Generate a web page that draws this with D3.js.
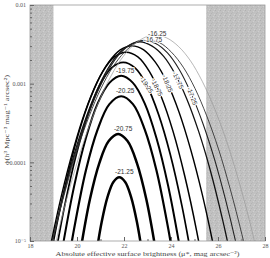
<!DOCTYPE html>
<html>
<head>
<meta charset="utf-8">
<script src="https://cdn.jsdelivr.net/npm/d3@7"></script>
<style>
body { margin: 0; background: #fff; }
svg { display: block; }
.tick text { font-family: "Liberation Serif", "DejaVu Serif", serif; font-size: 6px; fill: #555; }
.title { font-family: "Liberation Serif", "DejaVu Serif", serif; font-size: 7px; fill: #444; }
.lab { font-family: "Liberation Sans", Arial, sans-serif; font-size: 6.5px; fill: #333; }
</style>
</head>
<body>
<svg id="chart" width="270" height="258"></svg>
<script>
// magnitude bins (brightest first), one curve each: [mu, log10 phi]
var mags = ["-21.25", "-20.75", "-20.25", "-19.75", "-19.25", "-18.75",
            "-18.25", "-17.75", "-17.25", "-16.75", "-16.25"];

var c2125 = [[20.80,-5.20],[21.05,-4.76],[21.30,-4.44],[21.55,-4.25],[21.80,-4.19],[22.05,-4.25],[22.30,-4.44],[22.55,-4.76],[22.80,-5.20]];
var c2075 = [[20.15,-5.12],[20.55,-4.47],[20.95,-4.01],[21.35,-3.73],[21.75,-3.64],[22.15,-3.73],[22.55,-4.01],[22.95,-4.47],[23.35,-5.12]];
var c2025 = [[19.63,-5.28],[19.88,-4.84],[20.38,-4.10],[20.88,-3.58],[21.38,-3.26],[21.88,-3.16],[22.38,-3.26],[22.88,-3.58],[23.38,-4.10],[23.88,-4.84],[24.13,-5.28]];
var c1975 = [[19.13,-5.55],[19.38,-5.09],[19.88,-4.30],[20.38,-3.69],[20.88,-3.25],[21.38,-2.99],[21.88,-2.90],[22.38,-2.99],[22.88,-3.25],[23.38,-3.69],[23.88,-4.30],[24.38,-5.09],[24.63,-5.55]];
var c1925 = [[18.97,-5.37],[19.47,-4.56],[19.97,-3.90],[20.47,-3.39],[20.97,-3.02],[21.47,-2.80],[21.97,-2.73],[22.47,-2.80],[22.97,-3.02],[23.47,-3.39],[23.97,-3.90],[24.47,-4.56],[24.97,-5.37]];
var c1875 = [[18.59,-5.69],[19.09,-4.87],[19.59,-4.18],[20.09,-3.61],[20.59,-3.17],[21.09,-2.85],[21.59,-2.66],[22.09,-2.60],[22.59,-2.66],[23.09,-2.85],[23.59,-3.17],[24.09,-3.61],[24.59,-4.18],[25.09,-4.87],[25.59,-5.69]];
var c1825 = [[18.34,-5.90],[18.84,-5.11],[19.34,-4.42],[19.84,-3.84],[20.34,-3.36],[20.84,-2.99],[21.34,-2.73],[21.84,-2.57],[22.34,-2.52],[22.84,-2.57],[23.34,-2.73],[23.84,-2.99],[24.34,-3.36],[24.84,-3.84],[25.34,-4.42],[25.84,-5.11],[26.34,-5.90]];
var c1775 = [[18.68,-5.39],[19.18,-4.71],[19.68,-4.11],[20.18,-3.61],[20.68,-3.20],[21.18,-2.88],[21.68,-2.65],[22.18,-2.52],[22.68,-2.47],[23.18,-2.52],[23.68,-2.65],[24.18,-2.88],[24.68,-3.20],[25.18,-3.61],[25.68,-4.11],[26.18,-4.71],[26.68,-5.39]];
var c1725 = [[18.35,-5.86],[18.85,-5.14],[19.35,-4.51],[19.85,-3.96],[20.35,-3.50],[20.85,-3.12],[21.35,-2.82],[21.85,-2.61],[22.35,-2.49],[22.85,-2.45],[23.35,-2.49],[23.85,-2.61],[24.35,-2.82],[24.85,-3.12],[25.35,-3.50],[25.85,-3.96],[26.35,-4.51],[26.85,-5.14],[27.35,-5.86]];
var c1675 = [[18.52,-5.57],[19.02,-4.92],[19.52,-4.34],[20.02,-3.83],[20.52,-3.41],[21.02,-3.06],[21.52,-2.79],[22.02,-2.60],[22.52,-2.48],[23.02,-2.45],[23.52,-2.48],[24.02,-2.60],[24.52,-2.79],[25.02,-3.06],[25.52,-3.41],[26.02,-3.83],[26.52,-4.34],[27.02,-4.92],[27.52,-5.57]];
var c1625 = [[18.83,-5.36],[19.33,-4.73],[19.83,-4.18],[20.33,-3.70],[20.83,-3.30],[21.33,-2.97],[21.83,-2.71],[22.33,-2.53],[22.83,-2.42],[23.33,-2.38],[23.83,-2.42],[24.33,-2.53],[24.83,-2.71],[25.33,-2.97],[25.83,-3.30],[26.33,-3.70],[26.83,-4.18],[27.33,-4.73],[27.83,-5.36]];

var curves = [c2125, c2075, c2025, c1975, c1925, c1875, c1825, c1775, c1725, c1675, c1625];

// labels written along the falling side of these curves (index, mu)
var slantLabels = [[4, 22.96], [5, 23.40], [6, 23.85], [7, 24.30], [8, 24.90]];

// shaded (excluded) surface brightness ranges
var shaded = [[18, 19], [25.5, 28]];

var xTicks = [18, 20, 22, 24, 26, 28];
var yTicks = [1e-5, 1e-4, 1e-3, 1e-2];
var yTickLabels = ["10\u207b\u2075", "0.0001", "0.001", "0.01"];

var svg = d3.select("#chart"),
    pLeft = 30, pRight = 265, pTop = 5, pBottom = 241;

var x = d3.scaleLinear().domain([18, 28]).range([pLeft, pRight]);
var y = d3.scaleLog().domain([1e-5, 1e-2]).range([pBottom, pTop]);

var defs = svg.append("defs");
defs.append("clipPath").attr("id", "clip")
  .append("rect").attr("x", pLeft).attr("y", pTop)
  .attr("width", pRight - pLeft).attr("height", pBottom - pTop);

// speckled grey for the shaded bands
var pat = defs.append("pattern").attr("id", "speckle")
    .attr("patternUnits", "userSpaceOnUse").attr("width", 5).attr("height", 5);
pat.append("rect").attr("width", 5).attr("height", 5).attr("fill", "#c1c1c1");
[[0, 0, "#b0b0b0"], [3, 1, "#cfcfcf"], [1, 3, "#b4b4b4"], [4, 4, "#d0d0d0"], [2, 2, "#b8b8b8"]]
  .forEach(function(p) {
    pat.append("rect").attr("x", p[0]).attr("y", p[1])
      .attr("width", 1).attr("height", 1).attr("fill", p[2]);
  });

svg.append("g").selectAll("rect").data(shaded).enter().append("rect")
    .attr("x", function(d) { return x(d[0]); })
    .attr("y", pTop)
    .attr("width", function(d) { return x(d[1]) - x(d[0]); })
    .attr("height", pBottom - pTop)
    .attr("fill", "url(#speckle)");

var widths = [2.5, 2.5, 2.2, 2.0, 1.7, 1.5, 1.4, 1.3, 1.1, 0.9, 0.7];
var colors = ["#000", "#000", "#000", "#000", "#000", "#000", "#000", "#111", "#222", "#333", "#999"];

var line = d3.line()
    .x(function(d) { return x(d[0]); })
    .y(function(d) { return y(Math.pow(10, d[1])); })
    .curve(d3.curveCatmullRom.alpha(0.5));

svg.append("g").attr("clip-path", "url(#clip)")
  .selectAll("path").data(curves).enter().append("path")
    .attr("d", line)
    .attr("fill", "none")
    .attr("stroke", function(d, i) { return colors[i]; })
    .attr("stroke-width", function(d, i) { return widths[i]; });

// frame
svg.append("rect").attr("x", pLeft).attr("y", pTop)
  .attr("width", pRight - pLeft).attr("height", pBottom - pTop)
  .attr("fill", "none").attr("stroke", "#999").attr("stroke-width", 0.8);

// axes with inward ticks
var minorY = [];
[1e-5, 1e-4, 1e-3].forEach(function(dec) {
  for (var k = 2; k <= 9; k++) minorY.push(dec * k);
});
svg.append("g").attr("transform", "translate(" + pLeft + ",0)")
    .call(d3.axisLeft(y).tickValues(minorY).tickSize(-2).tickFormat(""))
    .call(function(g) { g.select(".domain").remove(); g.selectAll("line").attr("stroke", "#666"); });
svg.append("g").attr("transform", "translate(" + pLeft + ",0)")
    .call(d3.axisLeft(y).tickValues(yTicks).tickSize(-4).tickPadding(4)
      .tickFormat(function(d, i) { return yTickLabels[i]; }))
    .call(function(g) { g.select(".domain").remove(); g.selectAll("line").attr("stroke", "#666"); });

var minorX = d3.range(19, 28, 2);
svg.append("g").attr("transform", "translate(0," + pBottom + ")")
    .call(d3.axisBottom(x).tickValues(minorX).tickSize(-2).tickFormat(""))
    .call(function(g) { g.select(".domain").remove(); g.selectAll("line").attr("stroke", "#666"); });
svg.append("g").attr("transform", "translate(0," + pBottom + ")")
    .call(d3.axisBottom(x).tickValues(xTicks).tickSize(-4).tickPadding(3))
    .call(function(g) { g.select(".domain").remove(); g.selectAll("line").attr("stroke", "#666"); });

svg.append("text").attr("class", "title")
    .attr("x", (pLeft + pRight) / 2).attr("y", 256)
    .attr("text-anchor", "middle")
    .attr("textLength", 184).attr("lengthAdjust", "spacingAndGlyphs")
    .text("Absolute effective surface brightness (\u03bc*, mag arcsec\u207b\u00b2)");

svg.append("text").attr("class", "title")
    .attr("transform", "translate(9,120) rotate(-90)")
    .attr("text-anchor", "middle")
    .attr("textLength", 90).attr("lengthAdjust", "spacingAndGlyphs")
    .text("\u03d5(h\u00b3 Mpc\u207b\u00b3 mag\u207b\u00b9 arcsec\u00b2)");

// labels above the peaks (index, dx, dy in px from the peak)
var peakLabels = [[0, 5, -3], [1, 5, -3], [2, 4, -3], [3, 4, -3], [9, 5, 2], [10, 2, 1]];
var labels = svg.append("g");
peakLabels.forEach(function(p) {
  var i = p[0];
  var pk = d3.greatest(curves[i], function(d) { return d[1]; });
  labels.append("text").attr("class", "lab")
    .attr("x", x(pk[0]) + p[1]).attr("y", y(Math.pow(10, pk[1])) + p[2])
    .attr("text-anchor", "middle")
    .attr("stroke", "#fff").attr("stroke-width", 1.5).attr("paint-order", "stroke")
    .text(mags[i]);
});

// slanted labels on the right-hand legs
slantLabels.forEach(function(s) {
  var c = curves[s[0]], mu = s[1], j = 0;
  while (j < c.length - 2 && c[j + 1][0] < mu) j++;
  var x1 = x(c[j][0]), y1 = y(Math.pow(10, c[j][1])),
      x2 = x(c[j + 1][0]), y2 = y(Math.pow(10, c[j + 1][1]));
  var t = (x(mu) - x1) / (x2 - x1);
  var px = x1 + t * (x2 - x1), py = y1 + t * (y2 - y1);
  var ang = Math.atan2(y2 - y1, x2 - x1) * 180 / Math.PI;
  labels.append("text").attr("class", "lab")
    .attr("transform", "translate(" + px + "," + py + ") rotate(" + ang + ")")
    .attr("text-anchor", "middle").attr("dy", "0.35em")
    .attr("stroke", "#fff").attr("stroke-width", 2).attr("paint-order", "stroke")
    .text(mags[s[0]]);
});
</script>
</body>
</html>
